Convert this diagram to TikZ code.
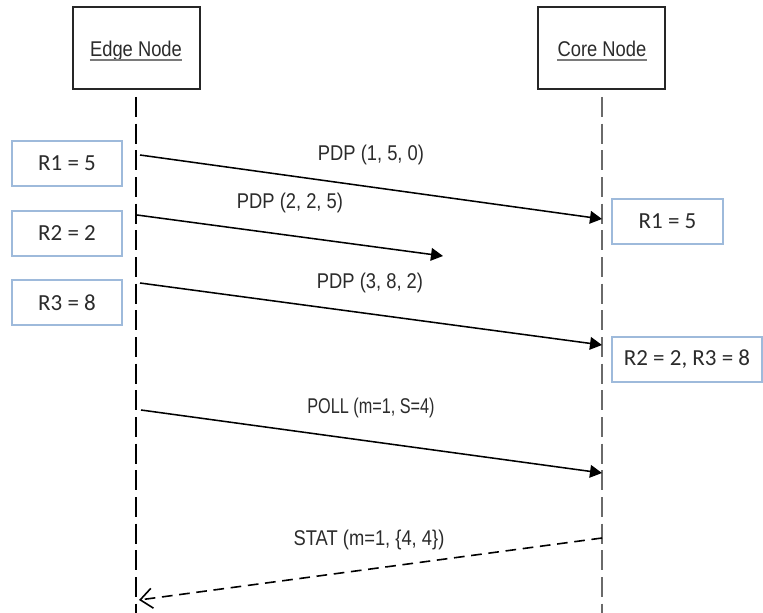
\documentclass[tikz,border=0pt]{standalone}
\usepackage{fontspec}
\usetikzlibrary{arrows.meta}
\setmainfont{Liberation Sans}
\newfontfamily\msgfont[FakeStretch=0.86]{Liberation Sans}
\newfontfamily\valfont{Carlito}
\definecolor{txt}{HTML}{2B2B2B}
\definecolor{valblue}{HTML}{9EBADB}
\definecolor{coreline}{HTML}{6A6A6A}
\definecolor{ulinecol}{HTML}{7A7A7A}

\begin{document}
\begin{tikzpicture}[x=0.75pt,y=-0.75pt,
  actor/.style={draw=black!85, line width=1.3pt, fill=white,
    minimum width=95.25pt, minimum height=61.5pt, inner sep=0pt},
  actorlabel/.style={font=\msgfont\fontsize{16}{19}\selectfont, text=txt,
    inner sep=0pt, anchor=base},
  nameline/.style={draw=ulinecol, line width=1.6pt},
  lifeline/.style={line width=1.2pt, dash pattern=on 15pt off 5pt},
  valbox/.style={draw=valblue, line width=1.4pt, fill=white, text=txt,
    font=\valfont\fontsize{17.25}{20}\selectfont, inner sep=0pt,
    minimum height=33.75pt},
  msg/.style={line width=1.15pt, -{Triangle[length=9pt,width=9.5pt]}},
  reply/.style={line width=1.2pt, dash pattern=on 8pt off 5pt,
    -{Straight Barb[length=9pt,width=15pt]}},
  msglabel/.style={font=\msgfont\fontsize{16}{19}\selectfont, text=txt,
    inner sep=0pt, anchor=base}]

\useasboundingbox (0,0) rectangle (763,613);

% participants
\node[actor] (edge) at (136.5,48) {};
\node[actor] (core) at (601.5,48) {};
\node[actorlabel] (edgeT) at (136,56.5) {Edge Node};
\node[actorlabel] (coreT) at (602,56.5) {Core Node};
\draw[nameline] ([yshift=-2.4pt]edgeT.base west) -- ([yshift=-2.4pt]edgeT.base east);
\draw[nameline] ([yshift=-2.4pt]coreT.base west) -- ([yshift=-2.4pt]coreT.base east);

% lifelines
\coordinate (edgeTop) at (136,97);
\coordinate (edgeBot) at (136,613);
\coordinate (coreTop) at (602,97);
\coordinate (coreBot) at (602,613);
\draw[lifeline, draw=black] (edgeTop) -- (edgeBot);
\draw[lifeline, draw=coreline] (coreTop) -- (coreBot);

% register values on the edge side
\node[valbox, minimum width=82.5pt] (eR1) at (67,163.5) {R1 = 5};
\node[valbox, minimum width=82.5pt] (eR2) at (67,233.5) {R2 = 2};
\node[valbox, minimum width=82.5pt] (eR3) at (67,302.5) {R3 = 8};

% register values on the core side
\node[valbox, minimum width=83.25pt] (cR1) at (667.5,221.5) {R1 = 5};
\node[valbox, minimum width=112.5pt] (cR23) at (687,359.5) {R2 = 2, R3 = 8};

% message end points
\coordinate (m1s) at (140,155);
\coordinate (m1e) at (602,219);
\coordinate (m2s) at (137,215);
\coordinate (m2e) at (443,256);
\coordinate (m3s) at (140,283);
\coordinate (m3e) at (602,345);
\coordinate (m4s) at (141,410);
\coordinate (m4e) at (602,473);
\coordinate (m5s) at (602,538);
\coordinate (m5e) at (139,600);

\draw[msg] (m1s) -- (m1e);
\draw[msg] (m2s) -- (m2e);
\draw[msg] (m3s) -- (m3e);
\draw[msg] (m4s) -- (m4e);
\draw[reply] (m5s) -- (m5e);

\node[msglabel] (l1) at (371,161) {PDP (1, 5, 0)};
\node[msglabel] (l2) at (290,208) {PDP (2, 2, 5)};
\node[msglabel] (l3) at (370,288) {PDP (3, 8, 2)};
\node[msglabel] (l4) at (371,413) {\scalebox{0.885}[1]{POLL (m=1, S=4)}};
\node[msglabel] (l5) at (369,545) {STAT (m=1, \{4, 4\})};
\end{tikzpicture}
\end{document}
